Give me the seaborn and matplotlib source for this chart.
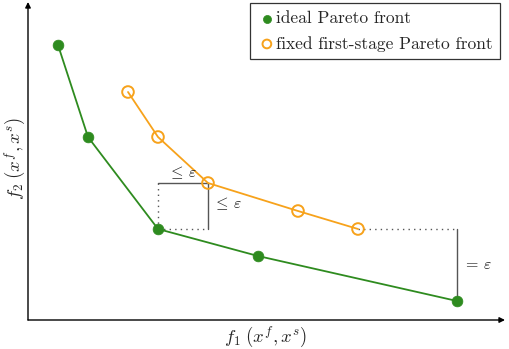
import matplotlib
matplotlib.use("Agg")
import matplotlib.pyplot as plt
import seaborn as sns
import pandas as pd

sns.set_theme(style="white")
plt.rcParams['font.family'] = ['serif']
plt.rcParams['font.serif'] = ['cmr10', 'DejaVu Serif']
plt.rcParams['mathtext.fontset'] = 'cm'
plt.rcParams['axes.unicode_minus'] = False

# data (abstract objective values)
ideal_f1 = [58, 88, 158, 258, 457]
ideal_f2 = [304, 212, 120, 93, 48]
fixed_f1 = [128, 158, 208, 298, 358]
fixed_f2 = [257, 212, 166, 138, 120]
labels = ["ideal Pareto front", "fixed first-stage Pareto front"]

green = "#2e8b1f"
orange = "#f7a21b"
gray = "#555555"

ideal = pd.DataFrame({"f1": ideal_f1, "f2": ideal_f2})
fixed = pd.DataFrame({"f1": fixed_f1, "f2": fixed_f2})

fig = plt.figure(figsize=(5.09, 3.49), dpi=100)
ax = fig.add_axes([28/509, 29/349, 477/509, 318/349])
ax.set_xlim(28, 505)
ax.set_ylim(29, 347)

sns.lineplot(data=ideal, x="f1", y="f2", sort=False, color=green, lw=1.3, ax=ax, legend=False)
sns.lineplot(data=fixed, x="f1", y="f2", sort=False, color=orange, lw=1.3, ax=ax, legend=False)

# annotations
i2 = 2
j2 = 2
x0, y0 = ideal_f1[i2], ideal_f2[i2]
x1, y1 = fixed_f1[j2], fixed_f2[j2]
ax.plot([x0, x1], [y1, y1], color=gray, lw=1.0, zorder=1)
ax.plot([x1, x1], [y1, y0], color=gray, lw=1.0, zorder=1)
ax.plot([x0, x0], [y1, y0], color=gray, lw=1.0, ls=(0, (1, 3)), zorder=1)
ax.plot([x0, x1], [y0, y0], color=gray, lw=1.0, ls=(0, (1, 3)), zorder=1)
tc = "#222222"
ax.text((x0 + x1) / 2, y1 + 2, r"$\leq\,\varepsilon$", ha="center", va="bottom", fontsize=11.5, color=tc)
ax.text(x1 + 5, (y0 + y1) / 2 + 2, r"$\leq\,\varepsilon$", ha="left", va="center", fontsize=11.5, color=tc)

xa, ya = fixed_f1[-1], fixed_f2[-1]
xb, yb = ideal_f1[-1], ideal_f2[-1]
ax.plot([xa, xb], [ya, ya], color=gray, lw=1.0, ls=(0, (1, 3)), zorder=1)
ax.plot([xb, xb], [ya, yb], color=gray, lw=1.0, zorder=1)
ax.text(xb + 6, (ya + yb) / 2, r"$=\,\varepsilon$", ha="left", va="center", fontsize=11.5, color=tc)

sns.scatterplot(data=ideal, x="f1", y="f2", color=green, s=60, edgecolor=green, linewidth=0.5, ax=ax, zorder=3, label=labels[0])
sns.scatterplot(data=fixed, x="f1", y="f2", facecolor="none", edgecolor=orange, s=70, linewidth=1.4, marker="o", ax=ax, zorder=3, label=labels[1])

leg = ax.legend(loc="upper right", bbox_to_anchor=(1.0 - 5/477, 1.0 - 1/318), frameon=True, fontsize=12.5,
                handletextpad=0.0, handlelength=1.0, borderpad=0.45, labelspacing=0.55,
                fancybox=False, edgecolor="black", borderaxespad=0.0, markerscale=0.75)
leg.get_frame().set_linewidth(0.9)

for s in ax.spines.values():
    s.set_visible(False)
ax.set_xticks([])
ax.set_yticks([])
ax.set_xlabel("")
ax.set_ylabel("")

ax.annotate("", xy=(1, 0), xytext=(0, 0), xycoords="axes fraction",
            arrowprops=dict(arrowstyle="-|>", color="black", lw=1.0, mutation_scale=8, shrinkA=0, shrinkB=0))
ax.annotate("", xy=(0, 1), xytext=(0, 0), xycoords="axes fraction",
            arrowprops=dict(arrowstyle="-|>", color="black", lw=1.0, mutation_scale=8, shrinkA=0, shrinkB=0))

fig.text(266/509, 1 - 337/349, r"$f_1\;(x^f, x^s)$", ha="center", va="center", fontsize=13.5)
fig.text(15/509, 1 - 158/349, r"$f_2\;(x^f, x^s)$", ha="center", va="center", fontsize=13.5, rotation=90)

fig.savefig("out.png", dpi=100)
